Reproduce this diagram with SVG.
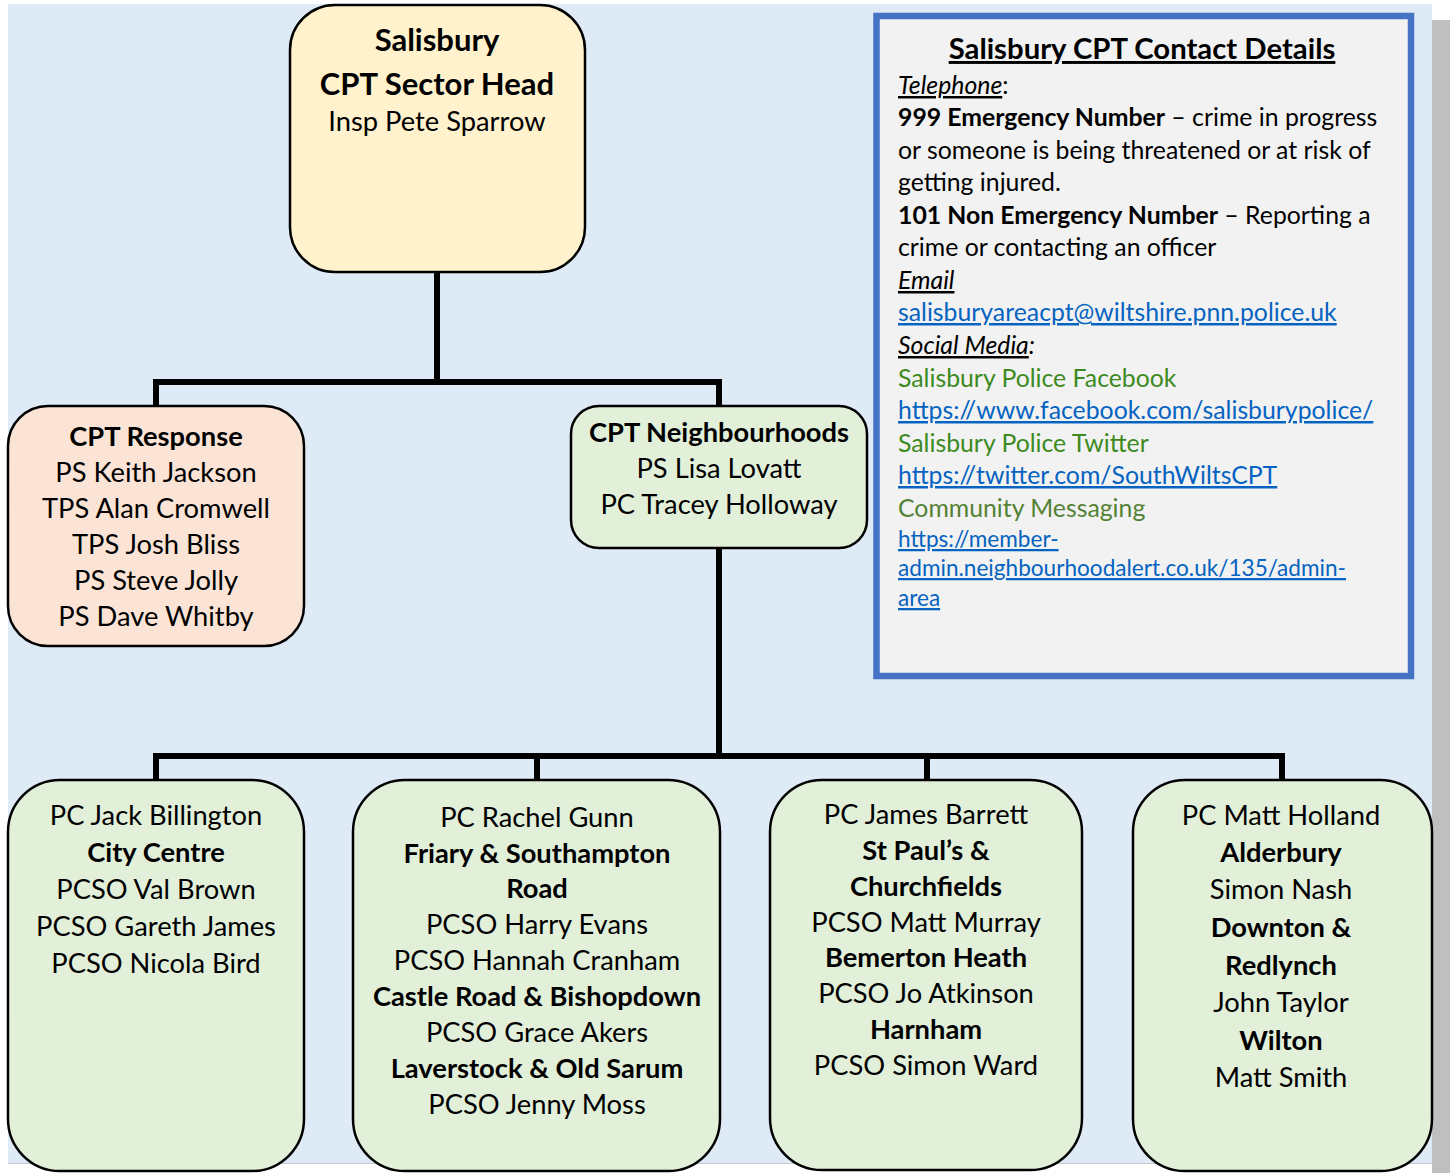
<svg xmlns="http://www.w3.org/2000/svg" width="1450" height="1173" viewBox="0 0 1450 1173">
<style>
text{font-family:Lato,"Open Sans","Liberation Sans",sans-serif;fill:#000;}
.c{text-anchor:middle;}
.t{font-size:27.3px;}
.b{font-weight:bold;}
.s{font-size:24.8px;}
.s2{font-size:22.6px;}
.u{text-decoration:underline;}
.i{font-style:italic;}
.lnk{fill:#0563c1;text-decoration:underline;}
.grn{fill:#3d8a1f;}
.olv{fill:#548235;}
.box{stroke:#000;stroke-width:2.5;}
.con{stroke:#000;stroke-width:6;fill:none;stroke-linecap:butt;}
</style>
<rect x="0" y="0" width="1450" height="1173" fill="#ffffff"/>
<rect x="1432" y="20" width="18" height="1153" fill="#bfbfbf"/>
<rect x="8" y="4" width="1424" height="1159" fill="#deeaf6"/>
<line x1="8" y1="1163.5" x2="1432" y2="1163.5" stroke="#c8c8c8" stroke-width="1"/>

<g id="connectors">
<path class="con" d="M437,272 V382"/>
<path class="con" d="M156,406 V382 H719 V406"/>
<path class="con" d="M719,548 V756"/>
<path class="con" d="M156,780 V756 H1282 V780"/>
<path class="con" d="M537,756 V780"/>
<path class="con" d="M927,756 V780"/>
</g>

<g id="sector-head">
<rect class="box" x="290" y="5" width="295" height="267" rx="45" fill="#fff2cc"/>
<text class="c b" x="437" y="51" font-size="31">Salisbury</text>
<text class="c b" x="437" y="95" font-size="31">CPT Sector Head</text>
<text class="c t" x="437" y="131">Insp Pete Sparrow</text>
</g>

<g id="cpt-response">
<rect class="box" x="8" y="406" width="296" height="240" rx="40" fill="#fbe4d5"/>
<text class="c t b" x="156" y="446">CPT Response</text>
<text class="c t" x="156" y="482">PS Keith Jackson</text>
<text class="c t" x="156" y="518">TPS Alan Cromwell</text>
<text class="c t" x="156" y="554">TPS Josh Bliss</text>
<text class="c t" x="156" y="590">PS Steve Jolly</text>
<text class="c t" x="156" y="626">PS Dave Whitby</text>
</g>

<g id="cpt-neighbourhoods">
<rect class="box" x="571" y="406" width="296" height="142" rx="28" fill="#e2efd9"/>
<text class="c t b" x="719" y="442">CPT Neighbourhoods</text>
<text class="c t" x="719" y="478">PS Lisa Lovatt</text>
<text class="c t" x="719" y="514">PC Tracey Holloway</text>
</g>

<g id="contact-details">
<rect x="876.5" y="16" width="534.5" height="660" fill="#f2f2f2" stroke="#4472c4" stroke-width="6.5"/>
<text class="c b u" x="1142" y="59" font-size="29.3">Salisbury CPT Contact Details</text>
<text class="s" x="898" y="94"><tspan class="i u">Telephone</tspan>:</text>
<text class="s" x="898" y="126"><tspan class="b">999 Emergency Number</tspan> – crime in progress</text>
<text class="s" x="898" y="159">or someone is being threatened or at risk of</text>
<text class="s" x="898" y="191">getting injured.</text>
<text class="s" x="898" y="224"><tspan class="b">101 Non Emergency Number</tspan> – Reporting a</text>
<text class="s" x="898" y="256">crime or contacting an officer</text>
<text class="s i u" x="898" y="289">Email</text>
<text class="s lnk" x="898" y="321">salisburyareacpt@wiltshire.pnn.police.uk</text>
<text class="s i" x="898" y="354"><tspan class="u">Social Media</tspan>:</text>
<text class="s grn" x="898" y="387">Salisbury Police Facebook</text>
<text class="s lnk" x="898" y="419">https://www.facebook.com/salisburypolice/</text>
<text class="s grn" x="898" y="452">Salisbury Police Twitter</text>
<text class="s lnk" x="898" y="484">https://twitter.com/SouthWiltsCPT</text>
<text class="s olv" x="898" y="517">Community Messaging</text>
<text class="s2 lnk" x="898" y="547">https://member-</text>
<text class="s2 lnk" x="898" y="576">admin.neighbourhoodalert.co.uk/135/admin-</text>
<text class="s2 lnk" x="898" y="606">area</text>
</g>

<g id="city-centre">
<rect class="box" x="8" y="780" width="296" height="391" rx="52" fill="#e2efd9"/>
<text class="c t" x="156" y="825">PC Jack Billington</text>
<text class="c t b" x="156" y="862">City Centre</text>
<text class="c t" x="156" y="899">PCSO Val Brown</text>
<text class="c t" x="156" y="936">PCSO Gareth James</text>
<text class="c t" x="156" y="973">PCSO Nicola Bird</text>
</g>

<g id="friary">
<rect class="box" x="353" y="780" width="367" height="391" rx="52" fill="#e2efd9"/>
<text class="c t" x="537" y="827">PC Rachel Gunn</text>
<text class="c t b" x="537" y="863">Friary &amp; Southampton</text>
<text class="c t b" x="537" y="898">Road</text>
<text class="c t" x="537" y="934">PCSO Harry Evans</text>
<text class="c t" x="537" y="970">PCSO Hannah Cranham</text>
<text class="c t b" x="537" y="1006">Castle Road &amp; Bishopdown</text>
<text class="c t" x="537" y="1042">PCSO Grace Akers</text>
<text class="c t b" x="537" y="1078">Laverstock &amp; Old Sarum</text>
<text class="c t" x="537" y="1114">PCSO Jenny Moss</text>
</g>

<g id="st-pauls">
<rect class="box" x="770" y="780" width="312" height="390" rx="52" fill="#e2efd9"/>
<text class="c t" x="926" y="824">PC James Barrett</text>
<text class="c t b" x="926" y="860">St Paul’s &amp;</text>
<text class="c t b" x="926" y="896">Churchfields</text>
<text class="c t" x="926" y="932">PCSO Matt Murray</text>
<text class="c t b" x="926" y="967">Bemerton Heath</text>
<text class="c t" x="926" y="1003">PCSO Jo Atkinson</text>
<text class="c t b" x="926" y="1039">Harnham</text>
<text class="c t" x="926" y="1075">PCSO Simon Ward</text>
</g>

<g id="alderbury">
<rect class="box" x="1133" y="780" width="299" height="391" rx="52" fill="#e2efd9"/>
<text class="c t" x="1281" y="825">PC Matt Holland</text>
<text class="c t b" x="1281" y="862">Alderbury</text>
<text class="c t" x="1281" y="899">Simon Nash</text>
<text class="c t b" x="1281" y="937">Downton &amp;</text>
<text class="c t b" x="1281" y="975">Redlynch</text>
<text class="c t" x="1281" y="1012">John Taylor</text>
<text class="c t b" x="1281" y="1050">Wilton</text>
<text class="c t" x="1281" y="1087">Matt Smith</text>
</g>
</svg>
